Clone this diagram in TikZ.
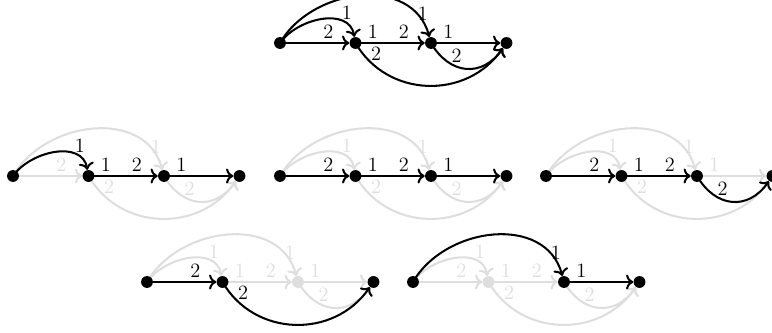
\documentclass[tikz,border=0pt]{standalone}
\usetikzlibrary{arrows.meta}
\pgfdeclarelayer{dim}
\pgfdeclarelayer{live}
\pgfsetlayers{dim,live,main}

% one edge, drawn on the layer of its own look (live or dim)
\newcommand{\portedge}[2]{%
  \begin{pgfonlayer}{#1}
    \draw[->,#1] #2;
  \end{pgfonlayer}}

% one port graph: #1 name, #2 origin, #3--#9 live or dim for its seven edges
\newcommand{\portgraph}[9]{%
  \begin{scope}[shift={(#2)}]
    \node[dot,v0] (#1-0) at (0,0) {};
    \node[dot,v1] (#1-1) at (75.5,0) {};
    \node[dot,v2] (#1-2) at (151,0) {};
    \node[dot,v3] (#1-3) at (226.5,0) {};
    \portedge{#3}{(#1-0.center) -- node[pos=.7,above] {2} (#1-1)}
    \portedge{#4}{(#1-0.center) to[out=55,in=100,looseness=1.05] node[pos=.72,above right=-2pt] {1} (#1-1)}
    \portedge{#5}{(#1-0.center) to[out=60,in=105,looseness=1.1] node[pos=.85,right=-2pt] {1} (#1-2)}
    \portedge{#6}{(#1-1.center) -- node[pos=.25,above] {1} node[pos=.7,above] {2} (#1-2)}
    \portedge{#7}{(#1-1.center) to[out=-60,in=-125,looseness=1.1] node[pos=.13,above right=-2pt] {2} (#1-3)}
    \portedge{#8}{(#1-2.center) -- node[pos=.25,above] {1} (#1-3)}
    \portedge{#9}{(#1-2.center) to[out=-60,in=-125,looseness=1.3] node[pos=.3,above right=-2pt] {2} (#1-3)}
  \end{scope}}

\begin{document}
\begin{tikzpicture}[x=0.59pt, y=0.59pt, font=\large,
  every node/.style={inner sep=2pt},
  dot/.style={circle,fill,inner sep=0pt,minimum size=7pt},
  live/.style={black,line width=1.2pt}, dim/.style={black!13,line width=1.2pt},
  v0/.style={}, v1/.style={}, v2/.style={}, v3/.style={}]
\useasboundingbox (0,0) rectangle (772,333);
% the whole graph
\portgraph{t}{280,290}{live}{live}{live}{live}{live}{live}{live}
% second row
\portgraph{a}{13,157}{dim}{live}{dim}{live}{dim}{live}{dim}
\portgraph{b}{280,157}{live}{dim}{dim}{live}{dim}{live}{dim}
\portgraph{c}{546,157}{live}{dim}{dim}{live}{dim}{dim}{live}
% third row
\begin{scope}[v2/.style={black!13}]
\portgraph{d}{147,51}{live}{dim}{dim}{dim}{live}{dim}{dim}
\end{scope}
\begin{scope}[v1/.style={black!13}]
\portgraph{e}{413,51}{dim}{dim}{live}{dim}{dim}{live}{dim}
\end{scope}
\end{tikzpicture}
\end{document}
